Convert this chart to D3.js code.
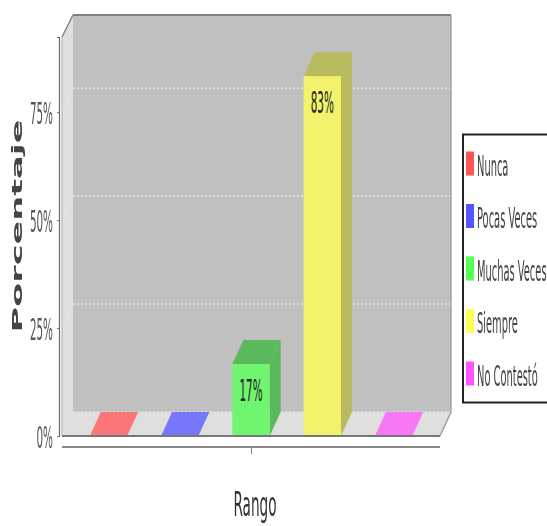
<!DOCTYPE html>
<html><head><meta charset="utf-8">
<script src="https://cdn.jsdelivr.net/npm/d3@7"></script>
<style>html,body{margin:0;background:#fff}svg{display:block;filter:blur(.55px)}text{font-family:"DejaVu Sans"}</style>
</head><body><svg id="c" width="547" height="526"></svg>
<script>
const categories=["Nunca","Pocas Veces","Muchas Veces","Siempre","No Contestó"];
const values=[0,0,16.67,83.33,0];
const valueLabels=["","","17%","83%",""];
const frontColors=["#fb7777","#7777fb","#70f570","#f2f26d","#f777f5"];
const darkColors=["#b85c5c","#5c5cb8","#5cb85c","#baba5e","#b85cb8"];
const legendColors=["#ff5555","#5555ff","#55ff55","#ffff55","#ff55ff"];
const yTicks=[0,25,50,75];
const svg=d3.select("#c");
const dx=11,dy=-24;
const x=d3.scaleBand().domain(categories).range([62,440]).paddingInner(.476).paddingOuter(.39);
const y=d3.scaleLinear().domain([0,92.4]).range([436,37]);
const L=62,R=440,B=436,T=37;
// walls
svg.append("path").attr("d",`M${L} ${B}L${L} ${T}L${L+dx} ${T+dy+2}L${L+dx} ${B+dy}Z`).attr("fill","#dfdfdf");
svg.append("rect").attr("x",L+dx).attr("y",T+dy+2).attr("width",R-L).attr("height",B-T-dy-2+dy).attr("fill","#c0c0c0");
svg.append("path").attr("d",`M${L} ${B}L${R} ${B}L${R+dx} ${B+dy}L${L+dx} ${B+dy}Z`).attr("fill","#dfdfdf");
// grid
const g=svg.append("g");
g.selectAll(".gb").data(yTicks).join("line").attr("x1",L+dx).attr("x2",R+dx).attr("y1",d=>y(d)+dy).attr("y2",d=>y(d)+dy)
 .attr("stroke","#dedede").attr("stroke-width",2).attr("stroke-dasharray","2 2");
g.selectAll(".gl").data(yTicks.slice(1)).join("line").attr("x1",L).attr("x2",L+dx).attr("y1",d=>y(d)).attr("y2",d=>y(d)+dy)
 .attr("stroke","#eeeeee").attr("stroke-width",1).attr("stroke-dasharray","2 2");
// outline
svg.append("path").attr("d",`M${L} ${T}L${L+dx} ${T+dy+2}`).attr("fill","none").attr("stroke","#808080").attr("stroke-width",1.4);
svg.append("line").attr("x1",L+dx).attr("x2",R+dx).attr("y1",T+dy+2).attr("y2",T+dy+2).attr("stroke","#808080").attr("stroke-width",2);
svg.append("path").attr("d",`M${R+dx} ${T+dy+2}L${R+dx} ${B+dy}L${R} ${B}`).attr("fill","none").attr("stroke","#999").attr("stroke-width",1.3);
svg.append("line").attr("x1",L).attr("x2",L).attr("y1",T).attr("y2",B).attr("stroke","#aaa");
// bars
const bars=svg.append("g").selectAll("g").data(categories).join("g");
const bw=x.bandwidth();
bars.append("path").attr("d",(c,i)=>{const a=x(c),t=y(values[i]);return `M${a+bw} ${B}L${a+bw+dx} ${B+dy}L${a+bw+dx} ${t+dy}L${a+bw} ${t}Z`}).attr("fill",(c,i)=>darkColors[i]);
bars.append("path").attr("d",(c,i)=>{const a=x(c),t=y(values[i]);return `M${a} ${t}L${a+dx} ${t+dy}L${a+bw+dx} ${t+dy}L${a+bw} ${t}Z`}).attr("fill",(c,i)=>values[i]>0?darkColors[i]:frontColors[i]);
bars.append("rect").attr("x",c=>x(c)).attr("width",bw).attr("y",(c,i)=>y(values[i])).attr("height",(c,i)=>B-y(values[i])).attr("fill",(c,i)=>frontColors[i]);
svg.append("line").attr("x1",L).attr("x2",R).attr("y1",B).attr("y2",B).attr("stroke","#777").attr("stroke-width",2);
function sq(sel,px,py,sx,sy,rot){sel.attr("transform",`translate(${px},${py})${rot?` rotate(${rot})`:""} scale(${sx},${sy})`)}
bars.each(function(c,i){ if(!valueLabels[i])return;
 const t=d3.select(this).append("text").text(valueLabels[i]).attr("font-size",20).attr("text-anchor","middle").attr("fill","#222");
 sq(t,x(c)+bw/2,y(values[i])+37,.52,1.5);
});
// axes
const ya=svg.append("g").attr("transform","translate(59,0)").call(d3.axisLeft(y).tickValues(yTicks).tickFormat(d=>d+"%").tickSize(2));
ya.select(".domain").attr("stroke","#666").attr("stroke-width",1.2);
ya.selectAll(".tick line").attr("stroke","#777");
ya.selectAll(".tick text").attr("font-size",20).attr("fill","#555").attr("x",0).attr("dy",0).attr("text-anchor","end").attr("transform","translate(-6,11) scale(.52,1.55)");
const xa=svg.append("g").attr("transform","translate(0,447)").call(d3.axisBottom(d3.scalePoint().domain([""]).range([251,251])).tickSize(7).tickFormat(""));
xa.select(".domain").attr("d",`M${L} 0H${R}`).attr("stroke","#888").attr("stroke-width",2);
xa.selectAll(".tick line").attr("stroke","#888");
const xt=svg.append("text").text("Rango").attr("font-size",22).attr("text-anchor","middle").attr("fill","#333");
sq(xt,255,516,.62,1.5);
const yt=svg.append("text").text("Porcentaje").attr("font-size",15).attr("font-weight","bold").attr("text-anchor","middle").attr("fill","#444");
sq(yt,22,226,2.34,.98,-90);
// legend
svg.append("rect").attr("x",463).attr("y",134.5).attr("width",100).attr("height",268).attr("fill","#fff").attr("stroke","#222").attr("stroke-width",2);
const lg=svg.append("g").selectAll("g").data(categories).join("g");
const ly=d3.scalePoint().domain(categories).range([163.5,373.5]);
lg.append("rect").attr("x",466).attr("width",8).attr("y",c=>ly(c)-12).attr("height",24).attr("fill",(c,i)=>legendColors[i]);
lg.append("text").text(c=>c).attr("font-size",19).attr("fill","#444").each(function(c){sq(d3.select(this),477,ly(c)+12,.52,1.45)});
</script></body></html>
